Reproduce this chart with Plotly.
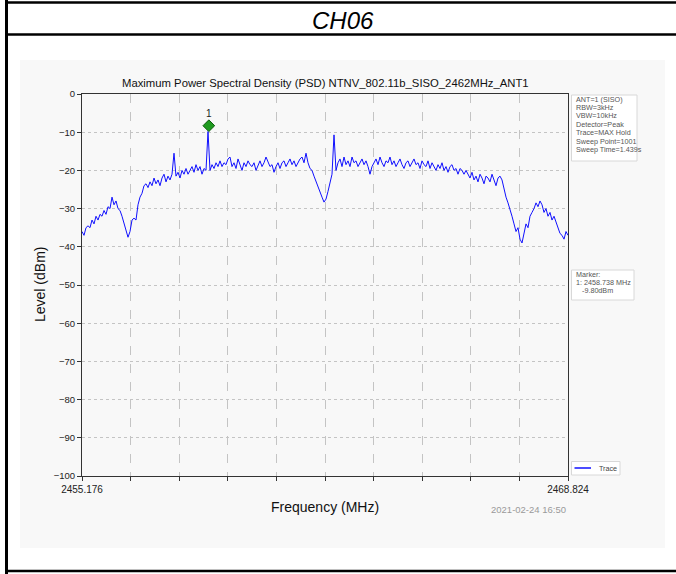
import numpy as np
import plotly.graph_objects as go

W, H = 676, 574

# ---------------- data ----------------
f_start, f_stop = 2455.176, 2468.824
levels = [
    -36, -37, -35, -34.5, -35, -33, -34, -32, -33, -31.5,
    -32, -30.5, -31.5, -29.5, -30, -27, -29, -28, -30, -30.5,
    -32, -34, -35.5, -37.5, -36, -33,
    -32.5, -33, -29, -27, -26,
    -24, -23.5, -24.5, -23, -24, -22, -23.5, -22.5, -24, -22,
    -21, -23, -21.5, -22.5, -21,
    -15.5,
    -21.5, -20.5, -22, -20, -21, -19.5, -21, -20, -19, -20.5, -18.5, -20, -19, -21, -19.5, -20,
    -9.8,
    -20, -18.5, -19.5, -18, -19, -17.5, -19, -18, -18.5, -17, -16.5, -19,
    -18, -19.5, -17, -18.5, -20, -18, -19, -17.5, -18.5, -19, -18, -20, -18.5, -17.5, -19, -18,
    -16.5, -18, -19, -18.5, -20.5, -19, -18, -19.5, -18,
    -17.5, -19, -18, -17, -18.5, -17.5, -19, -18, -17, -16.5, -18, -15.5,
    -18, -19.5, -20, -21.5, -23, -24, -25.5, -27,
    -28.3, -27.5, -25.5, -23.5, -21,
    -10.7,
    -20, -18, -17, -19, -16.5, -18.5, -17.5, -19, -16.5, -18, -17.5, -19, -18, -17, -18.5, -17.5,
    -19, -21, -19,
    -18, -17, -18.5, -16.5, -18, -19, -17.5, -18, -16.5, -18.5, -17.5, -19, -18, -17, -18.5,
    -19.5, -18, -17.5, -19, -18, -17, -18.5, -18, -19.5, -17.5,
    -18.5, -19, -17.5, -19.5, -18, -19, -20, -18.5, -19.5, -18, -20, -19, -20.5, -19, -18.5,
    -20, -19.5, -21, -19.5, -20, -21, -20,
    -21, -22, -20.5, -22.5, -21.5, -23, -21, -22, -23.5, -21.5, -22, -23, -21, -22.5, -24,
    -22, -21.5, -22.5,
    -25, -27, -28.5, -30, -32,
    -34, -36, -35, -38, -39,
    -36, -34, -35, -32, -31,
    -30, -28.5, -29.5, -28, -29,
    -31, -30, -32, -31, -33, -32, -33.5,
    -35, -36.5, -37, -38, -36, -37,
]
freq = np.linspace(f_start, f_stop, len(levels))

marker_freq = 2458.738
marker_level_drawn = -8.3
marker_label = "1"

y_tick_vals = list(range(0, -101, -10))
y_tick_text = [str(v).replace("-", "\u2212") for v in y_tick_vals]
x_tick_vals = list(np.linspace(f_start, f_stop, 11))
x_tick_text = ["2455.176"] + [""] * 9 + ["2468.824"]

chart_title = "Maximum Power Spectral Density (PSD) NTNV_802.11b_SISO_2462MHz_ANT1"
x_title = "Frequency (MHz)"
y_title = "Level (dBm)"
timestamp = "2021-02-24 16:50"
page_title = "CH06"
legend_label = "Trace"
info_lines = ["ANT=1 (SISO)", "RBW=3kHz", "VBW=10kHz", "Detector=Peak",
              "Trace=MAX Hold", "Sweep Point=1001", "Sweep Time=1.439s"]
marker_lines = ["Marker:", "1: 2458.738 MHz", "   -9.80dBm"]

# ---------------- layout helpers ----------------
def px(x):
    return x / W

def py(y):
    return 1 - y / H

FONT = "Liberation Sans, Arial, sans-serif"
L, R, T, B = 82, 568, 94, 476
TRACE_COLOR = "#1010ff"

fig = go.Figure()
fig.add_trace(go.Scatter(
    x=freq, y=levels, mode="lines", name=legend_label,
    line=dict(color=TRACE_COLOR, width=1), showlegend=False,
))
fig.add_trace(go.Scatter(
    x=[marker_freq], y=[marker_level_drawn], mode="markers+text",
    text=[marker_label], textposition="top center",
    textfont=dict(size=10, color="#222", family=FONT),
    marker=dict(symbol="diamond", size=9, color="#1f9a1f",
                line=dict(color="#0c5c0c", width=1)),
    showlegend=False, hoverinfo="skip",
))

shapes = [
    # light chart background
    dict(type="rect", xref="paper", yref="paper", x0=px(20), x1=px(665),
         y0=py(548), y1=py(60), fillcolor="#f8f8f8", line=dict(width=0), layer="below"),
    # document frame lines
    dict(type="line", xref="paper", yref="paper", x0=px(5), x1=1, y0=py(2.5), y1=py(2.5),
         line=dict(color="black", width=2.5)),
    dict(type="line", xref="paper", yref="paper", x0=px(5), x1=1, y0=py(34.5), y1=py(34.5),
         line=dict(color="black", width=2.5)),
    dict(type="line", xref="paper", yref="paper", x0=px(5), x1=1, y0=py(571), y1=py(571),
         line=dict(color="black", width=2.5)),
    dict(type="line", xref="paper", yref="paper", x0=px(6.5), x1=px(6.5), y0=0, y1=1,
         line=dict(color="black", width=3)),
    # info box
    dict(type="rect", xref="paper", yref="paper", x0=px(571.5), x1=px(637),
         y0=py(161), y1=py(95), fillcolor="white", line=dict(color="#d8d8d8", width=1)),
    # marker box
    dict(type="rect", xref="paper", yref="paper", x0=px(571.5), x1=px(634),
         y0=py(300), y1=py(270), fillcolor="white", line=dict(color="#d8d8d8", width=1)),
    # legend box and sample line
    dict(type="rect", xref="paper", yref="paper", x0=px(571.5), x1=px(620),
         y0=py(475), y1=py(461.5), fillcolor="white", line=dict(color="#d8d8d8", width=1)),
    dict(type="line", xref="paper", yref="paper", x0=px(574.5), x1=px(591),
         y0=py(468), y1=py(468), line=dict(color=TRACE_COLOR, width=1.5)),
]

annotations = [
    dict(text=page_title, x=px(343), y=py(20), xref="paper", yref="paper",
         showarrow=False, font=dict(size=24, family=FONT, color="black", style="italic"),
         xanchor="center", yanchor="middle"),
    dict(text=chart_title, x=px(325), y=py(83), xref="paper", yref="paper",
         showarrow=False, font=dict(size=11.3, family=FONT, color="#111"),
         xanchor="center", yanchor="middle"),
    dict(text=x_title, x=px(325), y=py(507), xref="paper", yref="paper",
         showarrow=False, font=dict(size=14, family=FONT, color="#111"),
         xanchor="center", yanchor="middle"),
    dict(text=y_title, x=px(40), y=py(285), xref="paper", yref="paper",
         showarrow=False, textangle=-90, font=dict(size=14, family=FONT, color="#111"),
         xanchor="center", yanchor="middle"),
    dict(text=timestamp, x=px(568), y=py(509), xref="paper", yref="paper",
         showarrow=False, font=dict(size=9.5, family=FONT, color="#9a9a9a"),
         xanchor="right", yanchor="middle"),
    dict(text=legend_label, x=px(597), y=py(468), xref="paper", yref="paper",
         showarrow=False, font=dict(size=7.2, family=FONT, color="#444"),
         xanchor="left", yanchor="middle"),
]
for i, line in enumerate(info_lines):
    annotations.append(dict(
        text=line, x=px(573.5), y=py(99 + 8.4 * i), xref="paper", yref="paper",
        showarrow=False, font=dict(size=7.2, family=FONT, color="#555"),
        xanchor="left", yanchor="middle"))
for i, line in enumerate(marker_lines):
    annotations.append(dict(
        text=line.replace(" ", "&nbsp;"), x=px(573.5), y=py(274 + 8.4 * i),
        xref="paper", yref="paper",
        showarrow=False, font=dict(size=7.2, family=FONT, color="#555"),
        xanchor="left", yanchor="middle"))

axis_common = dict(
    showline=True, linecolor="#333", linewidth=1, mirror=True,
    ticks="outside", ticklen=4, tickcolor="#333", tickwidth=1,
    showgrid=True, gridcolor="#c4c4c4", gridwidth=1, zeroline=False,
    automargin=False,
)

fig.update_layout(
    width=W, height=H, autosize=False,
    margin=dict(l=0, r=0, t=0, b=0, autoexpand=False),
    paper_bgcolor="white", plot_bgcolor="white",
    font=dict(family=FONT),
    xaxis=dict(domain=[px(L), px(R)], range=[f_start, f_stop],
               tickmode="array", tickvals=x_tick_vals, ticktext=x_tick_text,
               griddash="dash", tickfont=dict(size=10, family=FONT, color="#222"),
               **axis_common),
    yaxis=dict(domain=[py(B), py(T)], range=[-100, 0],
               tickmode="array", tickvals=y_tick_vals, ticktext=y_tick_text,
               griddash="dot", tickfont=dict(size=9.5, family=FONT, color="#222"),
               **axis_common),
    showlegend=False,
    shapes=shapes,
    annotations=annotations,
)

fig.write_html(
    "out.html",
    config={"displayModeBar": False},
    post_script="document.body.style.margin='0px';document.body.style.overflow='hidden';",
)
